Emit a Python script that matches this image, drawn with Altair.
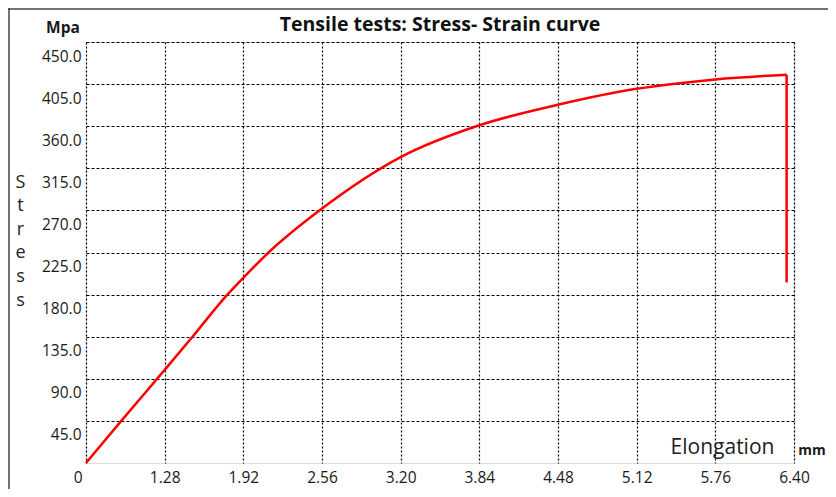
import altair as alt
import pandas as pd

# Elongation (mm) and stress (MPa)
elongation = [0.0, 0.56, 1.28, 1.51, 1.79, 1.92, 2.125, 2.56, 3.20, 3.84, 4.48, 5.12, 5.47, 5.76, 6.34]
stress = [0, 44, 99.5, 135.5, 180, 198, 225, 272, 327, 361, 383, 400, 406, 410, 415]
# final drop at rupture
drop_elongation = [6.34, 6.34]
drop_stress = [415, 193]

x_ticks = [0, 1.28, 1.92, 2.56, 3.20, 3.84, 4.48, 5.12, 5.76, 6.40]
y_ticks = [45, 90, 135, 180, 225, 270, 315, 360, 405, 450]

W, H = 708, 421
FONT = "Open Sans"
TXT = "#1a1a1a"

df = pd.DataFrame({"elong": elongation, "stress": stress})
df_drop = pd.DataFrame({"elong": drop_elongation, "stress": drop_stress})
one = pd.DataFrame({"a": [0]})

x_enc = alt.X(
    "elong:Q",
    scale=alt.Scale(domain=[0, 1.28, 6.40], range=[0, W / 9, W], nice=False, zero=False),
    axis=alt.Axis(
        values=x_ticks,
        format=".2f",
        labelExpr="datum.value == 0 ? '0' : datum.label",
        labelFlush=False,
        labelAlign={"condition": {"test": "datum.value == 0", "value": "right"}, "value": "center"},
        labelOffset={"condition": {"test": "datum.value == 0", "value": -4}, "value": 0},
        labelPadding=7,
        labelFont=FONT,
        labelFontSize=15.5,
        labelColor=TXT,
        ticks=False,
        domain=False,
        grid=True,
        gridColor="#000000",
        gridOpacity=1,
        gridDash=[2, 2],
        gridWidth=1.2,
        title="Elongation",
        titleFont=FONT,
        titleFontSize=21,
        titleFontWeight="normal",
        titleColor="#222222",
        titleX=636,
        titleY=-16,
        titleBaseline="middle",
        titleAlign="center",
    ),
)
y_enc = alt.Y(
    "stress:Q",
    scale=alt.Scale(domain=[0, 450], nice=False),
    axis=alt.Axis(
        values=y_ticks,
        format=".1f",
        labelOffset=14,
        labelPadding=5,
        labelFont=FONT,
        labelFontSize=15.5,
        labelColor=TXT,
        ticks=False,
        domain=False,
        grid=True,
        gridColor="#000000",
        gridOpacity=1,
        gridDash=[3, 2],
        gridWidth=1.2,
        title=["S", "t", "r", "e", "s", "s"],
        titleAngle=0,
        titleFont=FONT,
        titleFontSize=18,
        titleFontWeight="normal",
        titleColor="#222222",
        titleLineHeight=23.6,
        titleX=-66,
        titleY=140,
        titleAlign="center",
        titleBaseline="middle",
    ),
)

curve = alt.Chart(df).mark_line(
    color="#ff0000", strokeWidth=2.5, interpolate="monotone"
).encode(x=x_enc, y=y_enc)

drop = alt.Chart(df_drop).mark_line(color="#ff0000", strokeWidth=2.5).encode(
    x="elong:Q", y="stress:Q"
)

mpa = alt.Chart(one).mark_text(
    text="Mpa", font=FONT, fontSize=15.5, fontWeight="bold", color=TXT, baseline="middle", align="center"
).encode(x=alt.value(-23), y=alt.value(-14))

mm = alt.Chart(one).mark_text(
    text="mm", font=FONT, fontSize=14, fontWeight="bold", color=TXT, baseline="middle", align="center"
).encode(x=alt.value(726), y=alt.value(409))

frame_top = alt.Chart(one).mark_rule(color="#444444", strokeWidth=1.5).encode(
    x=alt.value(-78), x2=alt.value(742), y=alt.value(-33)
)
frame_left = alt.Chart(one).mark_rule(color="#444444", strokeWidth=1.5).encode(
    x=alt.value(-77), y=alt.value(-34), y2=alt.value(447)
)

chart = alt.layer(curve, drop, mpa, mm, frame_top, frame_left).properties(
    width=W,
    height=H,
    title=alt.Title(
        "Tensile tests: Stress- Strain curve",
        font=FONT,
        fontSize=19.5,
        fontWeight="bold",
        color="#111111",
        anchor="middle",
        frame="group",
        baseline="middle",
        offset=-37,
    ),
    autosize=alt.AutoSizeParams(type="none"),
    padding={"left": 78, "top": 34, "right": 34, "bottom": 26},
).configure_view(stroke="#222222", strokeWidth=1.5).configure(background="white")

chart.save("out.html", embed_options={"renderer": "svg", "actions": False})
